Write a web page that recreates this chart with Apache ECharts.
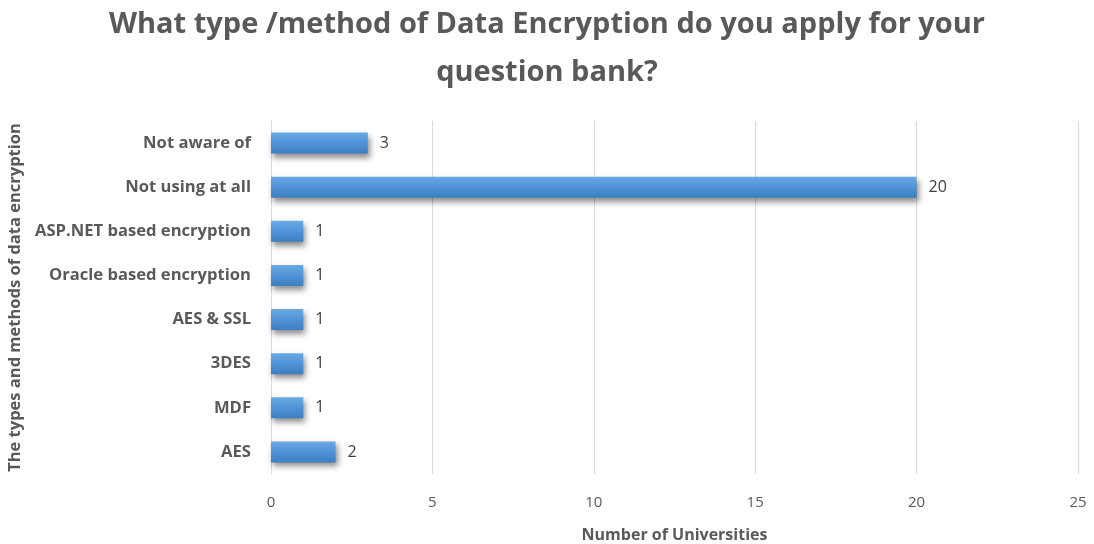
<!DOCTYPE html>
<html>
<head>
<meta charset="utf-8">
<script src="https://cdn.jsdelivr.net/npm/echarts@6/dist/echarts.min.js"></script>
<style>
  html, body { margin: 0; padding: 0; background: #fff; }
  #chart { width: 1094px; height: 544px; }
</style>
</head>
<body>
<div id="chart"></div>
<script>
// data, top to bottom as in the picture
var categories = ["Not aware of", "Not using at all", "ASP.NET based encryption", "Oracle based encryption", "AES & SSL", "3DES", "MDF", "AES"];
var universities = [3, 20, 1, 1, 1, 1, 1, 2];
var xTicks = [0, 5, 10, 15, 20, 25];

var chart = echarts.init(document.getElementById("chart"));

var textGrey = "#595959";

var option = {
    backgroundColor: "#ffffff",
    title: {
        text: "What type /method of Data Encryption do you apply for your\nquestion bank?",
        left: "center",
        top: -4,
        textStyle: {
            fontFamily: "Open Sans",
            fontSize: 29,
            fontWeight: "bold",
            color: textGrey,
            lineHeight: 48
        }
    },
    grid: {
        left: 271,
        right: 16,
        top: 121,
        bottom: 70,
        outerBoundsMode: "none",
        containLabel: false
    },
    xAxis: {
        type: "value",
        min: xTicks[0],
        max: xTicks[xTicks.length - 1],
        interval: 5,
        name: "Number of Universities",
        nameLocation: "middle",
        nameGap: 53,
        nameTextStyle: { fontFamily: "Open Sans", fontSize: 16, fontWeight: "bold", color: textGrey },
        axisLine: { show: false },
        axisTick: { show: false },
        axisLabel: { fontFamily: "Open Sans", fontSize: 15, color: textGrey, margin: 21 },
        splitLine: { lineStyle: { color: "#d9d9d9", width: 1 } }
    },
    yAxis: {
        type: "category",
        data: categories,
        inverse: true,
        name: "The types and methods of data encryption",
        nameLocation: "middle",
        nameGap: 244,
        nameRotate: 90,
        nameTextStyle: { fontFamily: "Open Sans", fontSize: 16.5, fontWeight: "bold", color: textGrey },
        axisLine: { show: true, lineStyle: { color: "#d9d9d9" } },
        axisTick: { show: false },
        axisLabel: { fontFamily: "Open Sans", fontSize: 16.6, fontWeight: "bold", color: textGrey, margin: 20 }
    },
    series: [{
        type: "bar",
        data: universities,
        barWidth: 21,
        itemStyle: {
            color: new echarts.graphic.LinearGradient(0, 0, 0, 1, [
                { offset: 0, color: "#6aa9e4" },
                { offset: 0.5, color: "#4f93d8" },
                { offset: 1, color: "#3d7ec2" }
            ]),
            shadowColor: "rgba(0,0,0,0.45)",
            shadowBlur: 6,
            shadowOffsetX: 2,
            shadowOffsetY: 4
        },
        label: {
            show: true,
            position: "right",
            distance: 12,
            fontFamily: "Open Sans",
            fontSize: 16,
            color: "#404040"
        }
    }]
};

chart.setOption(option);
</script>
</body>
</html>
